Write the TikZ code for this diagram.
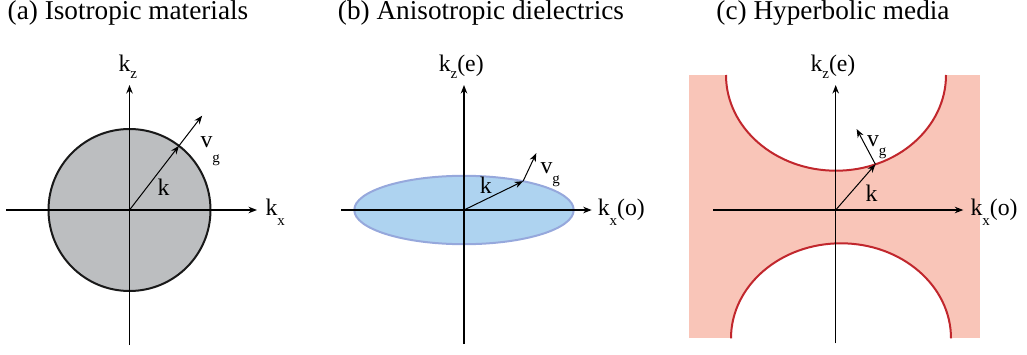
\documentclass[tikz,border=0pt]{standalone}
\usepackage{fontspec}
\setmainfont{Liberation Serif}
\usetikzlibrary{arrows.meta}
\definecolor{discgray}{RGB}{188,190,192}
\definecolor{ellblue}{RGB}{174,211,240}
\definecolor{elledge}{RGB}{150,168,220}
\definecolor{hypfill}{RGB}{249,197,184}
\definecolor{hypred}{RGB}{193,39,45}
\newcommand{\lo}[2]{\raisebox{#1}{\fontsize{6}{6}\selectfont #2}}
\begin{document}
\begin{tikzpicture}[x=0.4pt,y=0.4pt,
        axis/.style={line width=0.5pt,-{Stealth[length=3.4pt,width=2.6pt]}},
        vec/.style={line width=0.4pt,-{Stealth[length=3.4pt,width=2.6pt]}},
        lbl/.style={anchor=base west,inner sep=0pt,font=\fontsize{9.5}{11}\selectfont},
        ttl/.style={inner sep=0pt,font=\fontsize{10.9}{13}\selectfont}]
    \useasboundingbox (0,0) rectangle (1027,354);
        % (a) isotropic
        \coordinate (oa) at (129.5,144);
        \filldraw[fill=discgray,draw=black!90,line width=0.8pt] (oa) circle[radius = 81];
        \coordinate (xa0) at (6,144);    \coordinate (xa1) at (257,144);
        \coordinate (za0) at (129.5,9);  \coordinate (za1) at (129.5,269);
        \draw[line width=0.5pt] (xa0) -- (oa);
        \draw[axis] (oa) -- (xa1);
        \draw[line width=0.5pt] (za0) -- (oa);
        \draw[axis] (oa) -- (za1);
        \coordinate (ka) at ([shift={(52.4:81)}]oa);
        \coordinate (va) at ([shift={(52.4:38)}]ka);
        \draw[vec] (oa) -- (ka);
        \draw[vec] (ka) -- (va);
        \node[ttl] (ta) at (128,341) {(a) Isotropic materials};
        \node[lbl] (kza) at (118,282.3) {k\lo{-2.8pt}{z}};
        \node[lbl] (kxa) at (265,139) {k\lo{-4pt}{x}};
        \node[lbl] (kla) at (157,159) {k};
        \node[lbl] (vga) at (200,206) {v\lo{-6pt}{g}};

        % (b) anisotropic
        \coordinate (ob) at (464,144);
        \filldraw[fill=ellblue,draw=elledge,line width=0.8pt] (ob) ellipse[x radius = 109.7, y radius = 34.2];
        \coordinate (xb0) at (341,144);  \coordinate (xb1) at (591.7,144);
        \coordinate (zb0) at (464,10);   \coordinate (zb1) at (464,269);
        \draw[line width=0.5pt] (xb0) -- (ob);
        \draw[axis] (ob) -- (xb1);
        \draw[line width=0.5pt] (zb0) -- (ob);
        \draw[axis] (ob) -- (zb1);
        \coordinate (kb) at ([shift={(57.4:109.7 and 34.2)}]ob);
        \coordinate (vb) at ([shift={(64.8:31)}]kb);
        \draw[vec] (ob) -- (kb);
        \draw[vec] (kb) -- (vb);
        \node[ttl] (tb) at (481,341) {(b) Anisotropic dielectrics};
        \node[lbl] (kzb) at (438.3,282.3) {k\lo{-2.8pt}{z}(e)};
        \node[lbl] (kxb) at (597.3,139) {k\lo{-4pt}{x}(o)};
        \node[lbl] (klb) at (479.3,160.7) {k};
        \node[lbl] (vgb) at (540,180.7) {v\lo{-4pt}{g}};

        % (c) hyperbolic
        \coordinate (oc) at (835.7,144);
        \fill[hypfill] (689.3,15.7) rectangle (980,279);
        \fill[white] (726,279) arc[start angle=180, end angle=360, x radius=110, y radius=95.7] -- cycle;
        \fill[white] (731,15.7) arc[start angle=180, end angle=0, x radius=110, y radius=95] -- cycle;
        \draw[hypred,line width=0.8pt] (726,279) arc[start angle=180, end angle=360, x radius=110, y radius=95.7];
        \draw[hypred,line width=0.8pt] (731,15.7) arc[start angle=180, end angle=0, x radius=110, y radius=95];
        \coordinate (cu) at (836,279);
        \coordinate (xc0) at (713.3,144);  \coordinate (xc1) at (963.3,144);
        \coordinate (zc0) at (835.7,10.7); \coordinate (zc1) at (835.7,269);
        \draw[line width=0.5pt] (xc0) -- (oc);
        \draw[axis] (oc) -- (xc1);
        \draw[line width=0.5pt] (zc0) -- (oc);
        \draw[axis] (oc) -- (zc1);
        \coordinate (kc) at ([shift={(-69:110 and 95.7)}]cu);
        \coordinate (vc) at ([shift={(118:40)}]kc);
        \draw[vec] (oc) -- (kc);
        \draw[vec] (kc) -- (vc);
        \node[ttl] (tc) at (833,341) {(c) Hyperbolic media};
        \node[lbl] (kzc) at (810,282.3) {k\lo{-2.8pt}{z}(e)};
        \node[lbl] (kxc) at (970,139) {k\lo{-4pt}{x}(o)};
        \node[lbl] (klc) at (865,152.3) {k};
        \node[lbl] (vgc) at (866.5,207.5) {v\lo{-3.5pt}{g}};
\end{tikzpicture}
\end{document}
